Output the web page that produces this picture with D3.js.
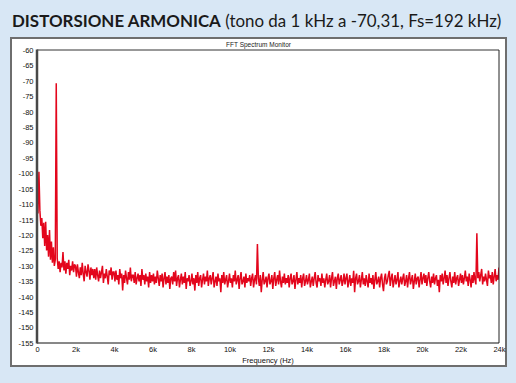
<!DOCTYPE html>
<html><head><meta charset="utf-8">
<script src="https://cdn.jsdelivr.net/npm/d3@7"></script>
<style>html,body{margin:0;padding:0;background:#d8e7f5;} svg{display:block}</style>
</head><body>
<svg id="c" width="516" height="383"></svg>
<script>
// FFT bin width (Hz) of the level array below
const binHz = 50;
const yTicks = [-60,-65,-70,-75,-80,-85,-90,-95,-100,-105,-110,-115,-120,-125,-130,-135,-140,-145,-150,-155];
const xTicks = [0,2000,4000,6000,8000,10000,12000,14000,16000,18000,20000,22000,24000];
const xTickLabels = ["0","2k","4k","6k","8k","10k","12k","14k","16k","18k","20k","22k","24k"];
// spectrum level (dB), one value per 50 Hz bin, 0 .. 24000 Hz (rows of 1 kHz)
const level = [
-111,-113,-99.5,-112,-117,-114.5,-121,-116,-123.5,-115.7,-125,-120,-127,-118.4,-128,-122.1,-129,-124,-130,-128,
-70.8,-127.5,-131,-128.5,-132,-129,-130.5,-125.5,-131.5,-128.5,-132.5,-129,-131,-128,-133,-130,-131.5,-128.5,-132,-129.5,
-130,-133.5,-129.5,-132,-134,-130.5,-133,-129,-132.5,-135,-130,-132,-133.5,-129.5,-131.5,-134.5,-130.5,-133,-131,-134,
-131,-134.5,-130.5,-133,-135,-131.5,-134,-132,-130,-135.5,-132.5,-134,-131,-133.5,-136,-131.5,-133,-130.5,-134.5,-132,
-132,-135,-131.5,-134.5,-133,-136,-131,-134,-132.5,-138,-133,-135.5,-131.5,-134,-136,-132,-134.5,-130.5,-135,-133,
-133,-135.5,-132,-136,-134,-132.5,-135,-133,-136.5,-131,-134.5,-133,-136,-132.5,-135,-133.5,-137,-132,-135.5,-133,
-135,-132.5,-136,-133.5,-135.5,-131.5,-134,-136.5,-133,-135,-132.5,-137,-134,-132,-136,-133.5,-135.5,-133,-137.5,-134,
-133.5,-136,-132,-135,-131.5,-136.5,-134,-133,-137,-134.5,-132.5,-136,-133.5,-135.5,-132,-137.5,-134,-135,-133,-136.5,
-135,-132.5,-136,-134,-138,-133,-135.5,-132,-136.5,-134,-133,-137,-134.5,-132.5,-136,-133.5,-135,-131.5,-136.5,-134,
-133,-136,-134,-132,-137,-135,-133.5,-136.5,-132.5,-135,-134,-138.5,-133,-135.5,-132,-136,-134.5,-133,-137,-135,
-132.5,-135.5,-134,-137,-133,-135,-131.5,-136,-134.5,-133,-137.5,-134,-132,-136,-135,-133.5,-137,-132.5,-135.5,-134,
-135,-133,-136.5,-134,-132.5,-137,-134.5,-133,-136,-122.9,-134,-136.5,-133,-138.5,-134.5,-132,-136,-135,-133.5,-137,
-134,-132.5,-136,-135,-133,-137.5,-134,-132,-136.5,-134.5,-133,-136,-131.5,-135,-137,-133.5,-135.5,-132.5,-136,-134,
-135.5,-133,-137,-134,-132.5,-136,-135,-133,-137.5,-134.5,-132,-136,-134,-135.5,-133,-137,-134,-132.5,-136.5,-135,
-133,-136,-134.5,-132.5,-137,-135,-133.5,-136.5,-134,-132,-135.5,-137,-133,-135,-134,-136.5,-132.5,-135.5,-134,-137,
-134.5,-132.5,-136,-135,-133,-137,-134,-132,-136.5,-135,-133.5,-137.5,-134,-132.5,-136,-134.5,-133,-136.5,-135,-132.5,
-136,-134,-132.5,-137,-135,-133,-136.5,-134,-135.5,-131.6,-138.5,-134,-132.5,-136,-135,-133,-137,-134.5,-132,-136,
-134,-136.5,-133,-135,-137,-132.5,-135.5,-134,-136,-133,-137.5,-134.5,-132,-136,-135,-133.5,-137,-134,-132.5,-136,
-138.2,-134,-132.5,-136,-135,-133,-131.6,-136.5,-134,-132.5,-137,-135,-133,-136,-134.5,-132,-137,-135,-133.5,-136,
-134,-132.5,-136.5,-135,-133,-137,-134,-132,-136,-134.5,-133,-137.5,-135,-132.5,-136,-134,-133.5,-137,-134.5,-132,
-136,-134,-132.5,-135.5,-133,-136.5,-134,-132,-135,-137,-133.5,-135.5,-132.5,-136,-134,-133,-136.5,-134.5,-138.5,-133,
-135,-132.5,-136,-134,-131.5,-135.5,-133,-136.5,-134,-132,-135,-137,-133.5,-135.5,-132,-136,-134,-133,-136.5,-134.5,
-132.5,-135.5,-133,-136,-134,-131.5,-135,-133.5,-136.5,-132.5,-134.5,-137,-133,-135.5,-132,-134.5,-136,-119.4,-134,-132,
-135,-133,-131,-136,-133.5,-135,-132.5,-134.5,-136.5,-131.5,-134,-133,-135.5,-132,-136,-133.5,-131,-135,-133,-134.5,
-130.5
];
const titleBold = "DISTORSIONE ARMONICA";
const titleRest = " (tono da 1 kHz a -70,31, Fs=192 kHz)";
const chartTitle = "FFT Spectrum Monitor";
const xLabel = "Frequency (Hz)";

const svg = d3.select("#c");
const L = 37, R = 499, T = 50, B = 343;
const x = d3.scaleLinear().domain([0, 24000]).range([L, R]);
const y = d3.scaleLinear().domain([-60, -155]).range([T, B]);

svg.append("rect").attr("width",516).attr("height",383).attr("fill","#d8e7f5");

const head = svg.append("text").attr("x",12).attr("y",27)
  .attr("font-family","Lato, 'Open Sans', sans-serif").attr("font-size",17).attr("fill","#1a1a1a");
head.append("tspan").attr("font-weight","bold").text(titleBold);
head.append("tspan").attr("font-weight","normal").text(titleRest);
const w = head.node().getComputedTextLength();
head.attr("font-size", 17 * 490 / w);

svg.append("rect").attr("x",11).attr("y",38).attr("width",495).attr("height",328)
  .attr("fill","#ffffff").attr("stroke","#6e6e6e").attr("stroke-width",2);

svg.append("text").attr("x",258.5).attr("y",47).attr("text-anchor","middle")
  .attr("font-family","'Liberation Sans', Arial, sans-serif").attr("font-size",6.5).attr("fill","#222")
  .text(chartTitle);

svg.append("clipPath").attr("id","pc").append("rect")
  .attr("x",L).attr("y",T).attr("width",R-L).attr("height",B-T);

const pts = level.map((v,i)=>({f:i*binHz, v}));
const line = d3.line().x(d=>x(d.f)).y(d=>y(d.v));
svg.append("path").datum(pts).attr("clip-path","url(#pc)")
  .attr("d", line).attr("fill","none").attr("stroke","#e3061c").attr("stroke-width",1.5)
  .attr("stroke-linejoin","miter").attr("stroke-miterlimit",2);

svg.append("line").attr("x1",L).attr("x2",R).attr("y1",T).attr("y2",T).attr("stroke","#333").attr("stroke-width",1);
svg.append("line").attr("x1",R).attr("x2",R).attr("y1",T).attr("y2",B).attr("stroke","#222").attr("stroke-width",1);
svg.append("line").attr("x1",L).attr("x2",R).attr("y1",B).attr("y2",B).attr("stroke","#111").attr("stroke-width",1);
svg.append("line").attr("x1",L).attr("x2",L).attr("y1",T-0.5).attr("y2",B+0.5).attr("stroke","#484848").attr("stroke-width",2.5);

const yAxis = d3.axisLeft(y).tickValues(yTicks).tickSize(0).tickPadding(3).tickFormat(d=>String(d));
const gy = svg.append("g").attr("transform",`translate(${L-0.5},0)`).call(yAxis);
gy.select(".domain").remove();
gy.selectAll("text").attr("font-family","'Liberation Sans', Arial, sans-serif").attr("font-size",7.5).attr("fill","#111");

const xAxis = d3.axisBottom(x).tickValues(xTicks).tickSize(0).tickPadding(4)
  .tickFormat((d,i)=>xTickLabels[i]);
const gx = svg.append("g").attr("transform",`translate(0,${B})`).call(xAxis);
gx.select(".domain").remove();
gx.selectAll("text").attr("font-family","'Liberation Sans', Arial, sans-serif").attr("font-size",7.5).attr("fill","#111");

svg.append("text").attr("x",(L+R)/2).attr("y",363).attr("text-anchor","middle")
  .attr("font-family","'Liberation Sans', Arial, sans-serif").attr("font-size",7.5).attr("fill","#111")
  .text(xLabel);
</script>
</body></html>
